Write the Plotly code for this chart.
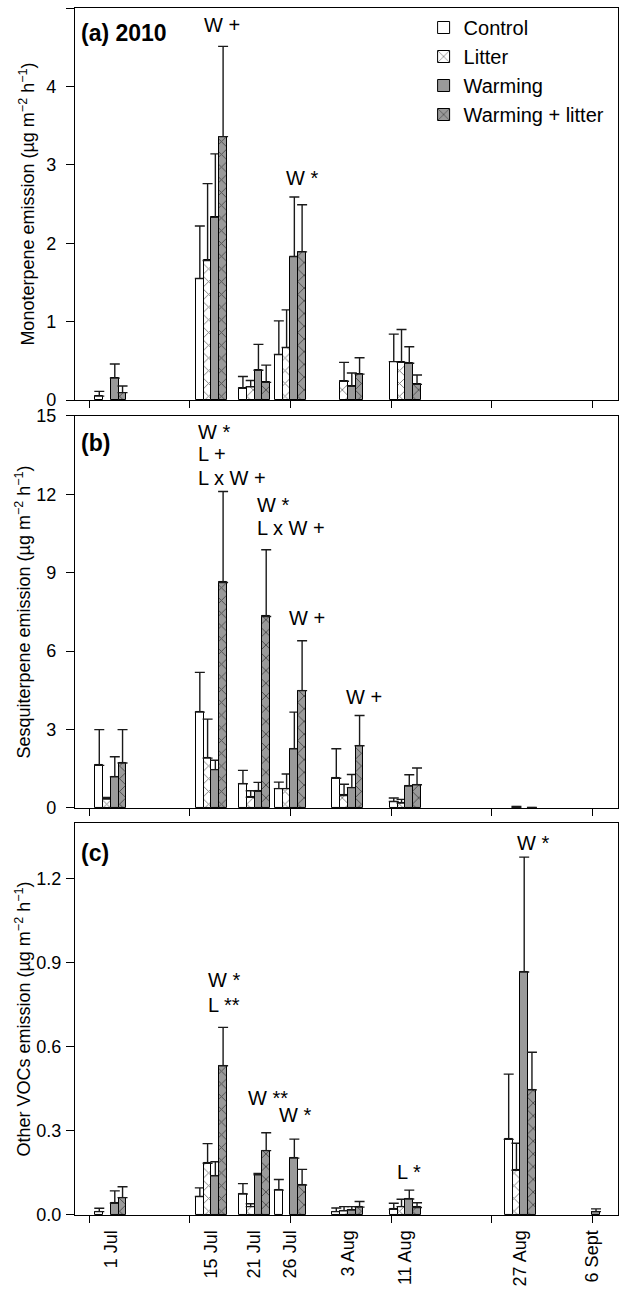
import plotly.graph_objects as go

# ---------------- data ----------------
date_labels = ["1 Jul", "15 Jul", "21 Jul", "26 Jul", "3 Aug", "11 Aug", "27 Aug", "6 Sept"]
date_doy = [182, 196, 202, 207, 215, 223, 239, 249]   # day of year 2010

treatments = ["Control", "Litter", "Warming", "Warming + litter"]

# (a) Monoterpene emission (µg m-2 h-1), mean and SE
mono_control = [0.05, 1.55, 0.15, 0.58, None, 0.49, None, None]
mono_control_se = [0.06, 0.67, 0.15, 0.43, None, 0.35, None, None]
mono_litter = [None, 1.78, 0.17, 0.67, 0.24, 0.48, None, None]
mono_litter_se = [None, 0.98, 0.08, 0.48, 0.24, 0.42, None, None]
mono_warming = [0.28, 2.33, 0.38, 1.83, 0.175, 0.47, None, None]
mono_warming_se = [0.18, 0.81, 0.33, 0.76, 0.17, 0.21, None, None]
mono_wl = [0.094, 3.36, 0.225, 1.89, 0.33, 0.20, None, None]
mono_wl_se = [0.085, 1.15, 0.22, 0.60, 0.21, 0.12, None, None]

# (b) Sesquiterpene emission
sesq_control = [1.63, 3.67, 0.93, 0.74, 1.14, 0.25, None, None]
sesq_control_se = [1.37, 1.52, 0.51, 0.25, 1.13, 0.13, None, None]
sesq_litter = [0.34, 1.91, 0.41, 0.74, 0.48, 0.19, 0.03, None]
sesq_litter_se = [0.06, 1.49, 0.25, 0.56, 0.43, 0.14, 0.03, None]
sesq_warming = [1.19, 1.47, 0.64, 2.27, 0.78, 0.84, None, None]
sesq_warming_se = [0.77, 0.36, 0.34, 1.40, 0.50, 0.43, None, None]
sesq_wl = [1.72, 8.63, 7.33, 4.49, 2.38, 0.89, 0.01, None]
sesq_wl_se = [1.28, 3.48, 2.55, 1.91, 1.16, 0.64, 0.01, None]

# (c) Other VOCs emission
voc_control = [0.012, 0.066, 0.075, 0.089, 0.012, 0.020, 0.27, None]
voc_control_se = [0.012, 0.031, 0.037, 0.038, 0.013, 0.022, 0.233, None]
voc_litter = [None, 0.185, 0.030, None, 0.015, 0.030, 0.16, None]
voc_litter_se = [None, 0.070, 0.010, None, 0.015, 0.026, 0.096, None]
voc_warming = [0.042, 0.14, 0.144, 0.203, 0.018, 0.057, 0.868, 0.012]
voc_warming_se = [0.044, 0.05, 0.004, 0.068, 0.012, 0.032, 0.41, 0.010]
voc_wl = [0.062, 0.533, 0.23, 0.107, 0.028, 0.027, 0.447, None]
voc_wl_se = [0.039, 0.137, 0.064, 0.056, 0.020, 0.017, 0.134, None]

# ---------------- styling ----------------
FONT = "Liberation Sans, Arial, sans-serif"
GRAY = "#9a9a9a"
BAR_W = 1.08
styles = [
    dict(color="white", pattern=dict(shape="", fgcolor="black", bgcolor="white")),
    dict(color="white", pattern=dict(shape="x", fgcolor="black", bgcolor="white", size=9, solidity=0.2)),
    dict(color=GRAY, pattern=dict(shape="", fgcolor=GRAY, bgcolor=GRAY)),
    dict(color=GRAY, pattern=dict(shape="x", fgcolor="black", bgcolor=GRAY, size=9, solidity=0.2)),
]

panels = [
    ("x", "y", [mono_control, mono_litter, mono_warming, mono_wl],
     [mono_control_se, mono_litter_se, mono_warming_se, mono_wl_se]),
    ("x2", "y2", [sesq_control, sesq_litter, sesq_warming, sesq_wl],
     [sesq_control_se, sesq_litter_se, sesq_warming_se, sesq_wl_se]),
    ("x3", "y3", [voc_control, voc_litter, voc_warming, voc_wl],
     [voc_control_se, voc_litter_se, voc_warming_se, voc_wl_se]),
]

fig = go.Figure()
for p, (xa, ya, means, ses) in enumerate(panels):
    for i, name in enumerate(treatments):
        st = styles[i]
        fig.add_trace(go.Bar(
            x=date_doy, y=means[i], xaxis=xa, yaxis=ya,
            name=name, legendgroup=name, showlegend=(p == 0),
            width=BAR_W, offset=-2 * BAR_W + i * BAR_W,
            marker=dict(color=st["color"], pattern=st["pattern"],
                        line=dict(color="black", width=1)),
            error_y=dict(type="data", array=ses[i],
                         arrayminus=[0] * len(ses[i]), symmetric=False,
                         color="#1a1a1a", thickness=1.4, width=5),
        ))

XRANGE = [177, 252.6]
axis_common = dict(showline=True, linecolor="black", linewidth=1.3, mirror=True,
                   showgrid=False, zeroline=False,
                   tickfont=dict(family=FONT, size=18, color="black"))

xticks = dict(tickmode="linear", tick0=179, dtick=14, ticks="outside",
              ticklen=7, tickwidth=1.2, tickcolor="black", showticklabels=False)
yticks = dict(ticks="outside", ticklen=8, tickwidth=1.2, tickcolor="black")

sup = "µg m<sup>−2</sup> h<sup>−1</sup>"
TITLE_FONT = dict(family=FONT, size=18)
fig.update_layout(
    width=622, height=1297,
    margin=dict(l=75, r=4, t=8, b=82, autoexpand=False),
    paper_bgcolor="white", plot_bgcolor="white",
    barmode="overlay",
    font=dict(family=FONT, color="black"),
    xaxis=dict(**axis_common, **xticks, range=XRANGE, anchor="y", domain=[0, 1]),
    xaxis2=dict(**axis_common, **xticks, range=XRANGE, anchor="y2", domain=[0, 1]),
    xaxis3=dict(showline=True, linecolor="black", linewidth=1.3, mirror=True,
                showgrid=False, zeroline=False,
                tickfont=dict(family=FONT, size=18, color="black"),
                range=XRANGE, anchor="y3", domain=[0, 1],
                tickmode="array", tickvals=date_doy, ticktext=date_labels,
                tickangle=-90, ticks="outside", ticklen=7, tickcolor="rgba(0,0,0,0)",
                minor=dict(tickmode="linear", tick0=179, dtick=14, ticks="outside",
                           ticklen=7, tickwidth=1.2, tickcolor="black")),
    yaxis=dict(**axis_common, **yticks, domain=[0.6752, 1.0], range=[0, 5], dtick=1,
               ticklabelstandoff=6,
               title=dict(text="Monoterpene emission (" + sup + ")",
                          font=TITLE_FONT, standoff=6)),
    yaxis2=dict(**axis_common, **yticks, domain=[0.3372, 0.662], range=[0, 15], dtick=3,
                ticklabelstandoff=6,
                title=dict(text="Sesquiterpene emission (" + sup + ")",
                           font=TITLE_FONT, standoff=0)),
    yaxis3=dict(**axis_common, **yticks, domain=[0.0, 0.3248], range=[0, 1.4],
                tickvals=[0, 0.3, 0.6, 0.9, 1.2], tickformat=".1f",
                ticklabelstandoff=1,
                title=dict(text="Other VOCs emission (" + sup + ")",
                           font=TITLE_FONT, standoff=0)),
    legend=dict(x=0.642, y=1.0, xanchor="left", yanchor="top",
                font=dict(family=FONT, size=20), bgcolor="rgba(0,0,0,0)",
                tracegroupgap=0, itemwidth=30),
    bargap=0,
)

# panel labels
for ax, txt, yy in [("", "<b>(a) 2010</b>", 0.935), ("2", "<b>(b)</b>", 0.931),
                    ("3", "<b>(c)</b>", 0.923)]:
    fig.add_annotation(xref=f"x{ax} domain", yref=f"y{ax} domain", x=0.008, y=yy,
                       text=txt, showarrow=False, xanchor="left", yanchor="middle",
                       font=dict(family=FONT, size=23))

# significance labels
sig = [
    ("x", "y", 197.4, 4.78, "W +", "center"),
    ("x", "y", 208.6, 2.83, "W *", "center"),
    ("x2", "y2", 193.9, 14.39, "W *", "left"),
    ("x2", "y2", 193.9, 13.55, "L +", "left"),
    ("x2", "y2", 193.9, 12.63, "L x W +", "left"),
    ("x2", "y2", 202.0, 11.6, "W *", "left"),
    ("x2", "y2", 202.0, 10.72, "L x W +", "left"),
    ("x2", "y2", 206.5, 7.27, "W +", "left"),
    ("x2", "y2", 214.5, 4.25, "W +", "left"),
    ("x3", "y3", 195.2, 0.839, "W *", "left"),
    ("x3", "y3", 195.2, 0.75, "L **", "left"),
    ("x3", "y3", 200.8, 0.418, "W **", "left"),
    ("x3", "y3", 205.1, 0.357, "W *", "left"),
    ("x3", "y3", 221.5, 0.154, "L *", "left"),
    ("x3", "y3", 238.2, 1.329, "W *", "left"),
]
for xa, ya, xx, yy, txt, anc in sig:
    fig.add_annotation(xref=xa, yref=ya, x=xx, y=yy, text=txt, showarrow=False,
                       xanchor=anc, yanchor="middle", font=dict(family=FONT, size=20))

fig.write_html("out.html", config={"displayModeBar": False},
               post_script="document.body.style.margin='0';")
